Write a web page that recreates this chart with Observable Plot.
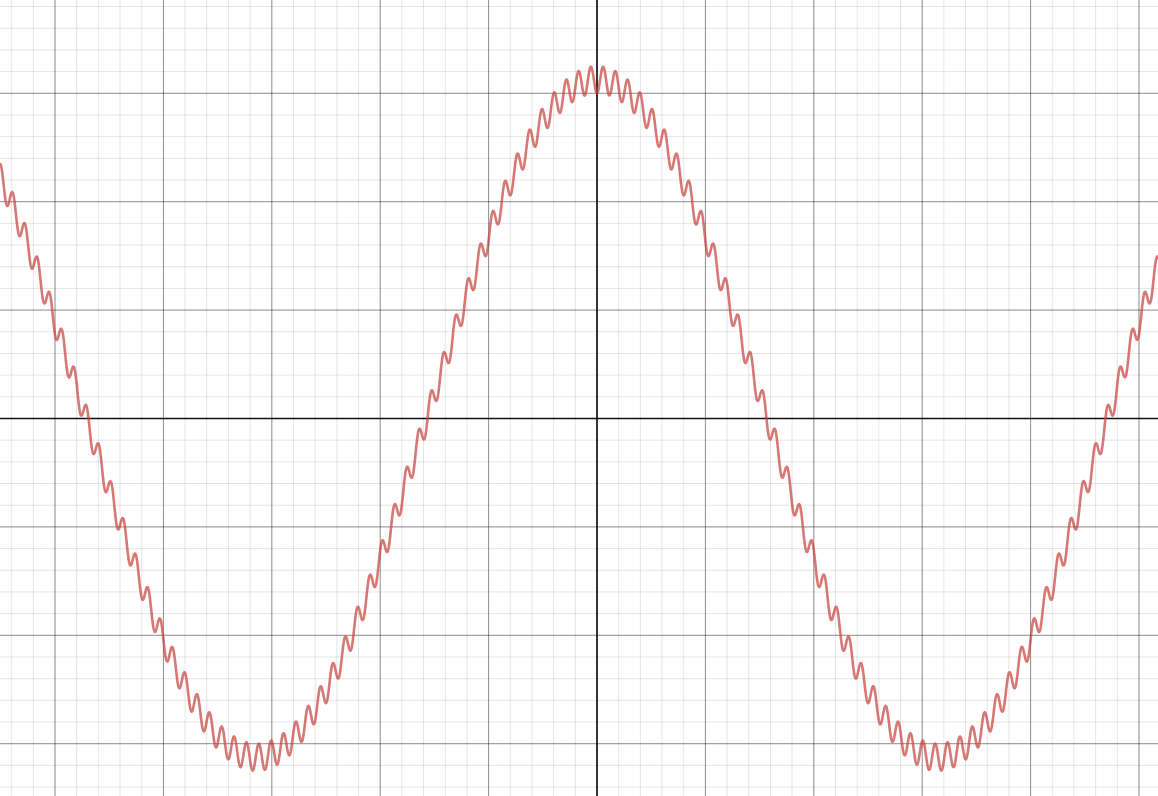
<!DOCTYPE html>
<html>
<head>
<meta charset="utf-8">
<script src="https://cdn.jsdelivr.net/npm/d3@7"></script>
<script src="https://cdn.jsdelivr.net/npm/@observablehq/plot@0.6"></script>
<style>
  html, body { margin: 0; padding: 0; background: #fff; overflow: hidden; }
  #chart svg { display: block; }
</style>
</head>
<body>
<div id="chart"></div>
<script>
// Axis window (graph units)
const xDomain = [-5.503, 5.180];
const yDomain = [-3.487, 3.856];

// Major grid values (1 unit) and minor grid values (0.2 unit)
const majorX = [-5, -4, -3, -2, -1, 0, 1, 2, 3, 4, 5];
const majorY = [-3, -2, -1, 0, 1, 2, 3];
const minorX = d3.range(-27, 26).map(i => i / 5);
const minorY = d3.range(-17, 20).map(i => i / 5);

// Curve: y = A·cos(x) − a·cos(k·x)
const mainAmplitude = [3.125];
const wiggleAmplitude = [0.125];
const wiggleFrequency = [55.38];

const N = 6000;
const curve = d3.range(N + 1).map(i => {
  const x = xDomain[0] + (xDomain[1] - xDomain[0]) * i / N;
  return {x, y: mainAmplitude[0] * Math.cos(x) - wiggleAmplitude[0] * Math.cos(wiggleFrequency[0] * x)};
});

const chart = Plot.plot({
  width: 1158,
  height: 796,
  margin: 0,
  x: {domain: xDomain, axis: null},
  y: {domain: yDomain, axis: null},
  marks: [
    Plot.ruleX(minorX, {stroke: "#000", strokeOpacity: 0.1, strokeWidth: 1}),
    Plot.ruleY(minorY, {stroke: "#000", strokeOpacity: 0.1, strokeWidth: 1}),
    Plot.ruleX(majorX, {stroke: "#000", strokeOpacity: 0.38, strokeWidth: 1}),
    Plot.ruleY(majorY, {stroke: "#000", strokeOpacity: 0.38, strokeWidth: 1}),
    Plot.ruleX([0], {stroke: "#111", strokeWidth: 1.6}),
    Plot.ruleY([0], {stroke: "#111", strokeWidth: 1.6}),
    Plot.line(curve, {x: "x", y: "y", stroke: "#c74440", strokeOpacity: 0.72, strokeWidth: 2.6})
  ]
});
document.getElementById("chart").appendChild(chart);
</script>
</body>
</html>
